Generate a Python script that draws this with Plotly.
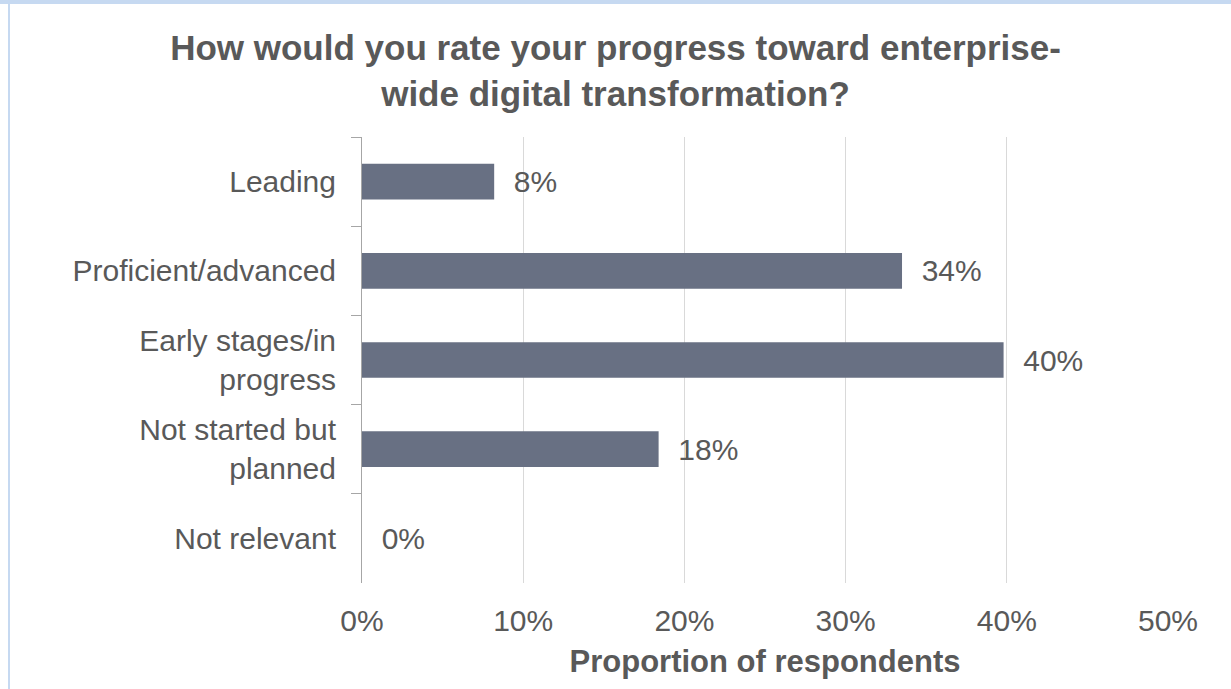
import plotly.graph_objects as go

categories = ["Leading", "Proficient/advanced", "Early stages/in<br>progress",
              "Not started but<br>planned", "Not relevant"]
values = [0.082, 0.335, 0.398, 0.184, 0.0]
x_ticks = [0, 0.1, 0.2, 0.3, 0.4, 0.5]
x_tick_labels = ["0%", "10%", "20%", "30%", "40%", "50%"]

title_text = "How would you rate your progress toward enterprise-<br>wide digital transformation?"
x_title = "Proportion of respondents"

W, H = 1231, 689
L, R, T, B = 362, 63, 137, 106
font_family = "Liberation Sans, Arial, sans-serif"
gray = "#595959"
tick_size = 30

fig = go.Figure(go.Bar(
    x=values, y=categories, orientation="h",
    marker=dict(color="#687083", line=dict(width=0)),
    text=values, texttemplate="\u00a0\u00a0%{x:.0%}", textposition="outside",
    textfont=dict(size=tick_size, color=gray, family=font_family),
    cliponaxis=False,
))

pw = W - L - R
ph = H - T - B
def px_x(p):
    return (p - L) / pw
def px_y(p):
    return 1 - (p - T) / ph

fig.update_layout(
    width=W, height=H,
    margin=dict(l=L, r=R, t=T, b=B, autoexpand=False),
    paper_bgcolor="white", plot_bgcolor="white",
    bargap=0.6,
    showlegend=False,
    title=dict(text=title_text, x=0.5, xanchor="center", xref="container",
               y=1 - 60 / H, yanchor="top", yref="container",
               font=dict(size=35, color=gray, family=font_family, weight="bold")),
    xaxis=dict(range=[0, 0.5], tickvals=x_ticks, ticktext=x_tick_labels,
               showgrid=True, gridcolor="#d9d9d9", gridwidth=1,
               zeroline=False, showline=False, ticks="",
               ticklabelstandoff=17,
               tickfont=dict(size=tick_size, color=gray, family=font_family),
               title=dict(text=x_title, standoff=14,
                          font=dict(size=31, color=gray, family=font_family, weight="bold"))),
    yaxis=dict(autorange="reversed", showgrid=False, zeroline=False,
               showline=True, linecolor="#a6a6a6", linewidth=1,
               ticks="outside", ticklen=10, tickcolor="#a6a6a6", tickson="boundaries",
               ticklabelstandoff=19,
               tickfont=dict(size=tick_size, color=gray, family=font_family)),
    shapes=[
        dict(type="rect", xref="paper", yref="paper",
             x0=px_x(0), x1=px_x(W), y0=px_y(4), y1=px_y(0),
             fillcolor="#c6d9f1", line=dict(width=0), layer="above"),
        dict(type="rect", xref="paper", yref="paper",
             x0=px_x(8), x1=px_x(10), y0=px_y(H), y1=px_y(0),
             fillcolor="#c6d9f1", line=dict(width=0), layer="above"),
    ],
)

fig.write_html("out.html")
